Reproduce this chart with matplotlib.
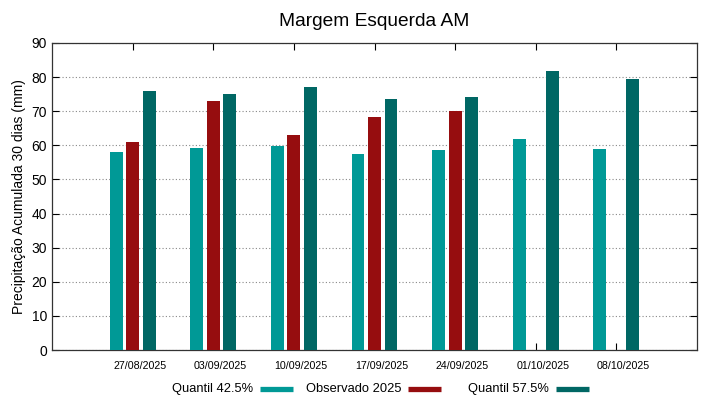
import numpy as np
import matplotlib
matplotlib.use("Agg")
from matplotlib import pyplot as plt
from matplotlib.lines import Line2D
from matplotlib.transforms import ScaledTranslation

plt.rcParams['font.family'] = ['Liberation Sans', 'DejaVu Sans']

dates = ["27/08/2025", "03/09/2025", "10/09/2025", "17/09/2025",
         "24/09/2025", "01/10/2025", "08/10/2025"]
q425 = [58.1, 59.1, 59.9, 57.5, 58.7, 62.0, 58.9]
observado = [60.9, 73.1, 63.0, 68.2, 70.1, np.nan, np.nan]
q575 = [75.9, 75.1, 77.1, 73.6, 74.1, 81.8, 79.3]
series_names = ["Quantil 42.5%", "Observado 2025", "Quantil 57.5%"]

c_q425 = "#009996"
c_obs = "#960d0f"
c_q575 = "#006764"
colors = [c_q425, c_obs, c_q575]

W, H = 719, 399
fig = plt.figure(figsize=(W / 100, H / 100), dpi=100)
ax = fig.add_axes([52 / W, 1 - 350 / H, 645 / W, 307 / H])

x = np.arange(len(dates))
w = 0.16
off = 0.205
ax.bar(x - off, q425, w, color=c_q425, zorder=3)
ax.bar(x, observado, w, color=c_obs, zorder=3)
ax.bar(x + off, q575, w, color=c_q575, zorder=3)

ax.set_xlim(-1, 7)
ax.set_ylim(0, 90)
ax.set_yticks(np.arange(0, 91, 10))
ax.set_xticks(x)
ax.set_xticklabels(dates, fontsize=7.7)
ax.tick_params(axis='y', labelsize=10)
ax.tick_params(direction='in', top=True, right=True, length=5, width=0.8)
ax.tick_params(axis='x', pad=8)
# gnuplot puts the date labels a bit right of the tick
shift = ScaledTranslation(7 / 100, 0, fig.dpi_scale_trans)
for lab in ax.get_xticklabels():
    lab.set_transform(lab.get_transform() + shift)
ax.yaxis.grid(True, linestyle=(0, (1, 2)), color='#888888', linewidth=0.8, zorder=0)
for s in ax.spines.values():
    s.set_color('#333333')
    s.set_linewidth(0.9)

ax.set_ylabel("Precipitação Acumulada 30 dias (mm)", fontsize=10, labelpad=4)
ax.set_title("Margem Esquerda AM", fontsize=13.8, pad=12)

# legend, gnuplot style: right-aligned text followed by a short colour sample
col_w = 148
for i, (name, c) in enumerate(zip(series_names, colors)):
    right = 293 + col_w * i
    left = right - 33
    yy = 1 - 389 / H
    fig.add_artist(Line2D([left / W, right / W], [yy, yy], color=c,
                          linewidth=3.8, solid_capstyle='butt'))
    fig.text((left - 7) / W, yy, name, ha='right', va='center', fontsize=9.3)

fig.savefig("out.png", dpi=100)
